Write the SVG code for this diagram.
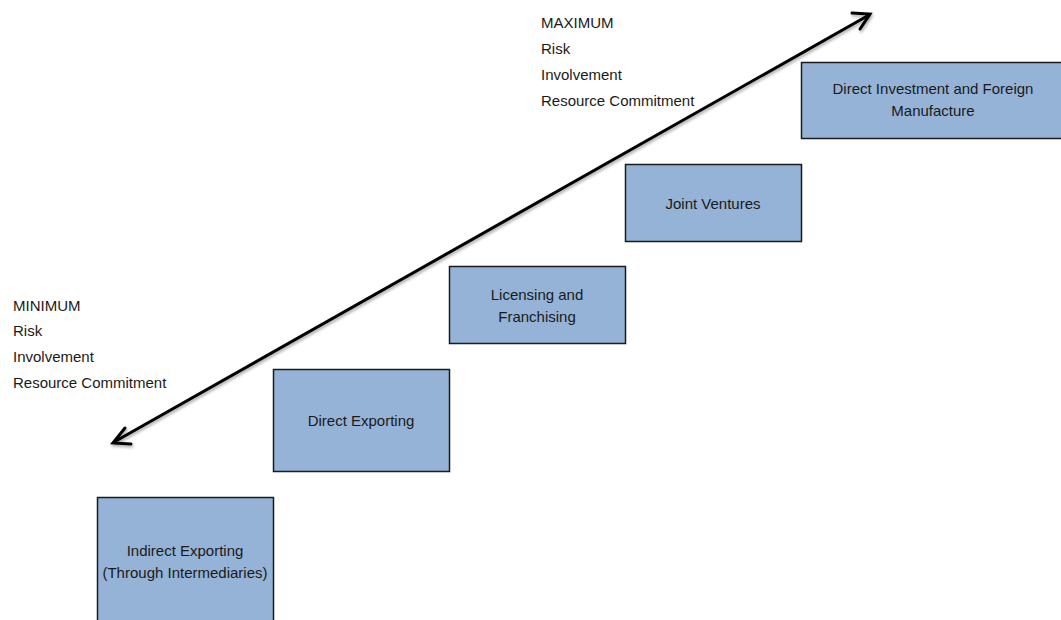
<svg xmlns="http://www.w3.org/2000/svg" width="1061" height="620" viewBox="0 0 1061 620">
<style>
.box{fill:#95b3d7;stroke:#1a1a1a;stroke-width:1.5}
.t{font-family:"Liberation Sans",Arial,sans-serif;font-size:15px;fill:#1a1a1a}
.c{text-anchor:middle}
.arr{stroke:#000;stroke-width:3;fill:none;stroke-linecap:round}
</style>
<defs>
<filter id="sh" x="-10%" y="-10%" width="120%" height="130%">
<feGaussianBlur in="SourceAlpha" stdDeviation="1.5"/>
<feOffset dx="1" dy="2" result="b"/>
<feComponentTransfer><feFuncA type="linear" slope="0.35"/></feComponentTransfer>
<feMerge><feMergeNode/><feMergeNode in="SourceGraphic"/></feMerge>
</filter>
</defs>
<rect width="1061" height="620" fill="#fff"/>
<g id="connectors" filter="url(#sh)">
<line class="arr" x1="114" y1="442" x2="869" y2="15"/>
<polyline class="arr" points="125,428 113,443 131,444"/>
<polyline class="arr" points="852,13 870,14 860,29"/>
</g>
<g id="min-label" class="t">
<text x="13" y="310.5">MINIMUM</text>
<text x="13" y="336">Risk</text>
<text x="13" y="361.5">Involvement</text>
<text x="13" y="387.5">Resource Commitment</text>
</g>
<g id="max-label" class="t">
<text x="541" y="27.5">MAXIMUM</text>
<text x="541" y="53.5">Risk</text>
<text x="541" y="79.5">Involvement</text>
<text x="541" y="105.5">Resource Commitment</text>
</g>
<g id="indirect-exporting">
<rect class="box" x="97.5" y="497.5" width="176" height="130"/>
<text class="t c" x="185" y="555.5">Indirect Exporting</text>
<text class="t c" x="185" y="577.5">(Through Intermediaries)</text>
</g>
<g id="direct-exporting">
<rect class="box" x="273.5" y="369.5" width="176" height="102"/>
<text class="t c" x="361" y="425.5">Direct Exporting</text>
</g>
<g id="licensing">
<rect class="box" x="449.5" y="266.5" width="176" height="77"/>
<text class="t c" x="537" y="299.5">Licensing and</text>
<text class="t c" x="537" y="321.5">Franchising</text>
</g>
<g id="joint-ventures">
<rect class="box" x="625.5" y="164.5" width="176" height="77"/>
<text class="t c" x="713" y="208.5">Joint Ventures</text>
</g>
<g id="direct-investment">
<rect class="box" x="801.5" y="62.5" width="262" height="76"/>
<text class="t c" x="933" y="93.5">Direct Investment and Foreign</text>
<text class="t c" x="933" y="115.5">Manufacture</text>
</g>
</svg>
